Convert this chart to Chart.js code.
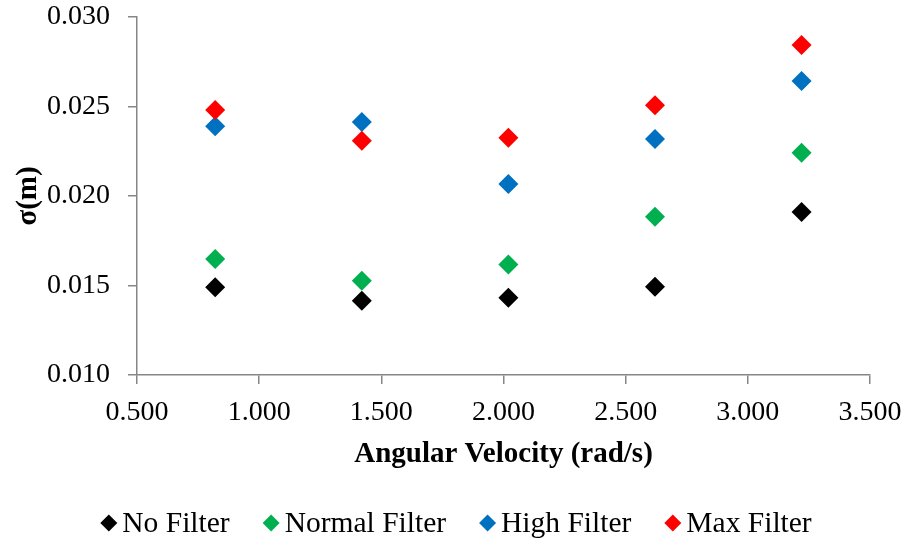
<!DOCTYPE html>
<html>
<head>
<meta charset="utf-8">
<script src="https://cdn.jsdelivr.net/npm/chart.js@4/dist/chart.umd.min.js"></script>
<style>
html,body{margin:0;padding:0;background:#fff;}
#wrap{width:910px;height:544px;}
</style>
</head>
<body>
<div id="wrap"><canvas id="c" width="910" height="544"></canvas></div>
<script>
const angularVelocity = [0.82, 1.42, 2.02, 2.62, 3.22];
const noFilter     = [0.01490, 0.01415, 0.01432, 0.01493, 0.01911];
const normalFilter = [0.01648, 0.01527, 0.01618, 0.01884, 0.02242];
const highFilter   = [0.02390, 0.02413, 0.02067, 0.02318, 0.02642];
const maxFilter    = [0.02480, 0.02309, 0.02326, 0.02507, 0.02844];
const seriesNames  = ['No Filter', 'Normal Filter', 'High Filter', 'Max Filter'];
const xTickLabels  = ['0.500', '1.000', '1.500', '2.000', '2.500', '3.000', '3.500'];
const yTickLabels  = ['0.010', '0.015', '0.020', '0.025', '0.030'];

const colors = ['#000000', '#00B050', '#0070C0', '#FF0000'];
const series = [noFilter, normalFilter, highFilter, maxFilter];
const FONT = '"Liberation Serif", "Times New Roman", serif';
const AXIS = '#868686';

const datasets = series.map((vals, i) => ({
  label: seriesNames[i],
  data: vals.map((v, j) => ({x: angularVelocity[j], y: v})),
  backgroundColor: colors[i],
  borderColor: colors[i],
  borderWidth: 0,
  pointStyle: 'rectRot',
  pointRadius: 10,
  pointHoverRadius: 10,
  showLine: false,
  order: 3 - i
}));

// Legend drawn at the bottom, centred, Excel-like spacing
const bottomLegend = {
  id: 'bottomLegend',
  afterDraw(chart) {
    const ctx = chart.ctx;
    const fontSize = 29.5, r = 8.5, gapMarker = 5, gapItem = 33, cy = 523;
    ctx.save();
    ctx.font = fontSize + 'px ' + FONT;
    ctx.textBaseline = 'middle';
    ctx.textAlign = 'left';
    const items = chart.data.datasets.map(ds => ({
      text: ds.label, color: ds.backgroundColor,
      w: 2 * r + gapMarker + ctx.measureText(ds.label).width
    }));
    const total = items.reduce((s, it) => s + it.w, 0) + gapItem * (items.length - 1);
    let x = chart.width / 2 - total / 2 + 1;
    items.forEach(it => {
      const cx = x + r;
      ctx.fillStyle = it.color;
      ctx.beginPath();
      ctx.moveTo(cx, cy - r);
      ctx.lineTo(cx + r, cy);
      ctx.lineTo(cx, cy + r);
      ctx.lineTo(cx - r, cy);
      ctx.closePath();
      ctx.fill();
      ctx.fillStyle = '#000';
      ctx.fillText(it.text, x + 2 * r + gapMarker, cy + 1);
      x += it.w + gapItem;
    });
    ctx.restore();
  }
};

new Chart(document.getElementById('c'), {
  type: 'scatter',
  data: { datasets },
  plugins: [bottomLegend],
  options: {
    responsive: false,
    animation: false,
    devicePixelRatio: 1,
    layout: { padding: { left: 0, right: 40, top: 17, bottom: 42 } },
    plugins: {
      tooltip: { enabled: false },
      legend: { display: false }
    },
    scales: {
      x: {
        type: 'linear',
        min: 0.5, max: 3.5,
        afterFit: s => { s.height = 127; s.paddingLeft = 0; s.paddingRight = 0; },
        ticks: {
          stepSize: 0.5,
          padding: 12,
          color: '#000',
          font: { family: FONT, size: 28 },
          maxRotation: 0,
          callback: (v, i) => xTickLabels[i] !== undefined ? xTickLabels[i] : v.toFixed(3)
        },
        grid: { drawOnChartArea: false, drawTicks: true, tickLength: 9, color: AXIS, lineWidth: 1.5 },
        border: { color: AXIS, width: 1.5 },
        title: {
          display: true,
          text: 'Angular Velocity (rad/s)',
          color: '#000',
          font: { family: FONT, size: 29, weight: 'bold' },
          padding: { top: 0, bottom: 30 }
        }
      },
      y: {
        type: 'linear',
        min: 0.010, max: 0.030,
        afterFit: s => { s.width = 137; s.paddingTop = 0; s.paddingBottom = 0; },
        ticks: {
          stepSize: 0.005,
          padding: 18,
          color: '#000',
          font: { family: FONT, size: 28 },
          callback: (v, i) => yTickLabels[i] !== undefined ? yTickLabels[i] : v.toFixed(3)
        },
        grid: { drawOnChartArea: false, drawTicks: true, tickLength: 9, color: AXIS, lineWidth: 1.5 },
        border: { color: AXIS, width: 1.5 },
        title: {
          display: true,
          text: 'σ(m)',
          color: '#000',
          font: { family: FONT, size: 29, weight: 'bold' },
          padding: { top: 11, bottom: 0 }
        }
      }
    }
  }
});
</script>
</body>
</html>
